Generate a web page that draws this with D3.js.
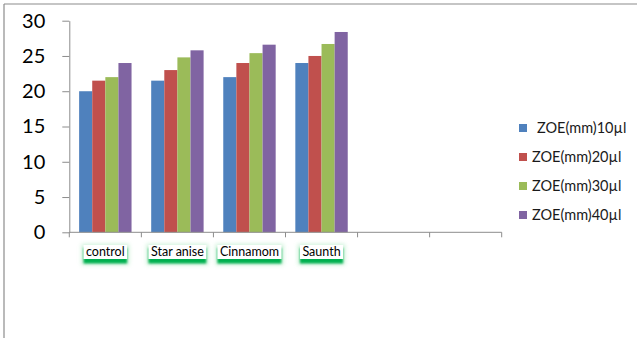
<!DOCTYPE html>
<html>
<head>
<meta charset="utf-8">
<script src="https://cdn.jsdelivr.net/npm/d3@7"></script>
<style>
  html, body { margin: 0; padding: 0; background: #fff; }
  svg { display: block; font-family: Lato, "Open Sans", sans-serif; }
</style>
</head>
<body>
<svg id="chart" width="637" height="338"></svg>
<script>
// Zone of inhibition (mm) by extract and dose
const categories = ["control", "Star anise", "Cinnamom", "Saunth", "", ""];
const seriesNames = ["ZOE(mm)10µl", "ZOE(mm)20µl", "ZOE(mm)30µl", "ZOE(mm)40µl"];
const zoe10 = [20, 21.5, 22, 24];
const zoe20 = [21.5, 23, 24, 25];
const zoe30 = [22, 24.8, 25.4, 26.7];
const zoe40 = [24, 25.8, 26.6, 28.4];
const yTicks = [0, 5, 10, 15, 20, 25, 30];
const colors = ["#4f81bd", "#c0504d", "#9bbb59", "#8064a2"];

const seriesValues = [zoe10, zoe20, zoe30, zoe40];
const svg = d3.select("#chart");

// glow / shadow filters
const defs = svg.append("defs");
const glow = defs.append("filter").attr("id", "glow")
  .attr("x", "-20%").attr("y", "-200%").attr("width", "140%").attr("height", "500%");
glow.append("feGaussianBlur").attr("stdDeviation", 2);

const shadow = defs.append("filter").attr("id", "shadow")
  .attr("x", "-30%").attr("y", "-50%").attr("width", "160%").attr("height", "200%");
shadow.append("feGaussianBlur").attr("stdDeviation", 0.8);

const soft = defs.append("filter").attr("id", "soft")
  .attr("x", "-30%").attr("y", "-60%").attr("width", "160%").attr("height", "220%");
soft.append("feGaussianBlur").attr("stdDeviation", 2.2);

// outer frame (top and left edges)
svg.append("line").attr("x1", 4).attr("x2", 637).attr("y1", 4).attr("y2", 4)
  .attr("stroke", "#8c8c8c").attr("stroke-width", 1.2);
svg.append("line").attr("x1", 4).attr("x2", 4).attr("y1", 4).attr("y2", 338)
  .attr("stroke", "#8c8c8c").attr("stroke-width", 1.2);

const x = d3.scaleBand().domain(d3.range(categories.length)).range([69.3, 501.7])
  .paddingInner(0).paddingOuter(0);
const xs = d3.scaleBand().domain(d3.range(seriesNames.length)).range([0, x.bandwidth()])
  .paddingInner(0).paddingOuter(0.75);
const y = d3.scaleLinear().domain([0, 30]).range([232.3, 20.7]);

// soft green glow along the category axis
svg.append("line").attr("x1", x.range()[0]).attr("x2", x.range()[1])
  .attr("y1", y(0) + 4).attr("y2", y(0) + 4)
  .attr("stroke", "#9fe3b8").attr("stroke-width", 4).attr("opacity", 0.6)
  .attr("filter", "url(#glow)");

// bars
const groups = svg.append("g").selectAll("g")
  .data(seriesValues).join("g")
  .attr("fill", (d, i) => colors[i]);
groups.selectAll("rect")
  .data((vals, si) => vals.map((v, ci) => ({ v, ci, si })))
  .join("rect")
  .attr("x", d => x(d.ci) + xs(d.si))
  .attr("width", xs.bandwidth())
  .attr("y", d => y(d.v))
  .attr("height", d => y(0) - y(d.v));

// y axis
const yAxis = svg.append("g").attr("transform", `translate(${x.range()[0]},0)`)
  .call(d3.axisLeft(y).tickValues(yTicks).tickSize(7).tickPadding(17).tickSizeOuter(0));
yAxis.select(".domain").attr("stroke", "#8c8c8c");
yAxis.selectAll(".tick line").attr("stroke", "#8c8c8c");
yAxis.selectAll(".tick text").attr("font-size", 20).attr("fill", "#000")
  .attr("font-family", "Lato, 'Open Sans', sans-serif");

// x axis with ticks at category boundaries
const xAxisG = svg.append("g");
xAxisG.append("line").attr("x1", x.range()[0]).attr("x2", x.range()[1])
  .attr("y1", y(0)).attr("y2", y(0)).attr("stroke", "#8c8c8c");
xAxisG.selectAll("line.tk")
  .data(d3.range(categories.length + 1)).join("line").attr("class", "tk")
  .attr("x1", i => x.range()[0] + i * x.step()).attr("x2", i => x.range()[0] + i * x.step())
  .attr("y1", y(0)).attr("y2", y(0) + 5).attr("stroke", "#8c8c8c");

// category labels in boxes with a green underline shadow
const labels = svg.append("g").selectAll("g")
  .data(categories.map((c, i) => ({ c, i })).filter(d => d.c !== ""))
  .join("g");
labels.each(function (d) {
  const g = d3.select(this);
  const cx = x(d.i) + x.bandwidth() / 2;
  const t = g.append("text").attr("x", cx).attr("y", 256)
    .attr("text-anchor", "middle").attr("font-size", 12.5).attr("fill", "#000")
    .text(d.c);
  const w = t.node().getComputedTextLength() + 5;
  const bx = cx - w / 2, by = 245, bh = 14;
  g.insert("rect", "text").attr("x", bx - 2).attr("y", by - 1).attr("width", w + 4).attr("height", bh + 7)
    .attr("fill", "#b8ecc9").attr("opacity", 0.7).attr("filter", "url(#soft)");
  g.insert("rect", "text").attr("x", bx).attr("y", by + 3).attr("width", w).attr("height", bh + 1.5)
    .attr("fill", "#00b050").attr("filter", "url(#shadow)");
  g.insert("rect", "text").attr("x", bx).attr("y", by).attr("width", w).attr("height", bh)
    .attr("fill", "#fff");
});

// legend
const legend = svg.append("g").selectAll("g")
  .data(seriesNames).join("g")
  .attr("transform", (d, i) => `translate(519,${128 + i * 29})`);
legend.append("rect").attr("x", 0).attr("y", -4).attr("width", 8).attr("height", 8)
  .attr("fill", (d, i) => colors[i]);
legend.append("text").attr("x", (d, i) => i === 0 ? 18 : 13).attr("y", 5)
  .attr("font-size", 14.5).attr("fill", "#1a1a1a").text(d => d);
</script>
</body>
</html>
